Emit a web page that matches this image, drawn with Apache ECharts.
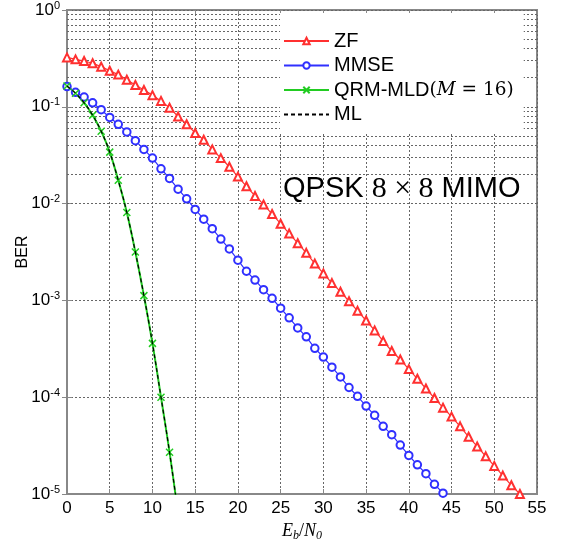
<!DOCTYPE html>
<html>
<head>
<meta charset="utf-8">
<script src="https://cdn.jsdelivr.net/npm/echarts@6/dist/echarts.min.js"></script>
<style>
  html, body { margin: 0; padding: 0; background: #fff; }
  #chart { width: 564px; height: 540px; }
</style>
</head>
<body>
<div id="chart"></div>
<script>
// BER values, one per 1 dB step starting at 0 dB
var berZF = [
  0.324, 0.309, 0.297, 0.282, 0.260, 0.236, 0.215, 0.190, 0.168, 0.149,
  0.132, 0.115, 0.098, 0.0794, 0.066, 0.0537, 0.0457, 0.0363, 0.0295, 0.024,
  0.019, 0.0151, 0.012, 0.0098, 0.0078, 0.0062, 0.0049, 0.0039, 0.0031, 0.0024,
  0.0019, 0.00151, 0.00123, 9.8e-4, 7.8e-4, 6.2e-4, 4.9e-4, 3.8e-4, 3.0e-4, 2.45e-4,
  1.95e-4, 1.55e-4, 1.23e-4, 9.8e-5, 7.8e-5, 6.3e-5, 5.0e-5, 3.9e-5, 3.1e-5, 2.45e-5,
  1.95e-5, 1.55e-5, 1.23e-5, 1.0e-5
];
var berMMSE = [
  0.162, 0.141, 0.126, 0.110, 0.0933, 0.0776, 0.066, 0.055, 0.0447, 0.0363,
  0.0295, 0.0229, 0.0182, 0.0141, 0.0112, 0.0087, 0.0069, 0.0055, 0.0043, 0.0034,
  0.0026, 0.0020, 0.00162, 0.00129, 0.00105, 8.3e-4, 6.6e-4, 5.2e-4, 4.2e-4, 3.2e-4,
  2.6e-4, 2.04e-4, 1.62e-4, 1.26e-4, 1.02e-4, 8.1e-5, 6.5e-5, 5.0e-5, 4.1e-5, 3.2e-5,
  2.5e-5, 2.0e-5, 1.62e-5, 1.26e-5, 1.02e-5
];
// the last value (13 dB) lies below the axis; only the line running into it shows
var berQRM = [
  0.164, 0.138, 0.110, 0.082, 0.056, 0.034, 0.0174, 0.0081, 0.00316, 0.00112,
  3.6e-4, 1.0e-4, 2.7e-5, 6.3e-6
];
var berML = [
  0.164, 0.138, 0.110, 0.082, 0.056, 0.034, 0.0174, 0.0081, 0.00316, 0.00112,
  3.6e-4, 1.0e-4, 2.7e-5, 6.3e-6
];
// minor grid lines of the log axis (2..9 in every decade)
var minorGrid = [];
[1e-5, 1e-4, 1e-3, 1e-2, 1e-1].forEach(function (d) {
  for (var k = 2; k <= 9; k++) minorGrid.push({ yAxis: k * d });
});

function pairs(arr) {
  return arr.map(function (v, i) { return [i, v]; });
}

var sans = 'Liberation Sans';
var serif = 'Liberation Serif';
var mathFont = 'DejaVu Serif';
var gridColor = '#666';

var chart = echarts.init(document.getElementById('chart'));
var option = {
  animation: false,
  backgroundColor: '#fff',
  grid: {
    left: 67, right: 27, top: 10, bottom: 46,
    outerBoundsMode: 'none',
    show: true, borderColor: '#888', borderWidth: 2, backgroundColor: 'transparent'
  },
  graphic: [{
    type: 'text',
    left: 283, top: 174, z: 100,
    style: {
      text: '{a|QPSK }{m|8 × 8}{a| MIMO}',
      rich: {
        a: { fontFamily: sans, fontSize: 29, fill: '#000' },
        m: { fontFamily: serif, fontSize: 30, fill: '#000' }
      }
    }
  }],
  legend: {
    orient: 'vertical',
    left: 280, top: 13,
    padding: [18, 10, 8, 3],
    backgroundColor: '#fff',
    itemWidth: 45, itemHeight: 8, itemGap: 4.5,
    data: ['ZF', 'MMSE', 'QRM-MLD', 'ML'],
    formatter: function (n) {
      if (n === 'QRM-MLD') return '{t|QRM-MLD}{p|(}{i|M}{p| = 16)}';
      return '{t|' + n + '}';
    },
    textStyle: {
      rich: {
        t: { fontFamily: sans, fontSize: 20, color: '#000', lineHeight: 21 },
        p: { fontFamily: mathFont, fontSize: 18.5, color: '#000', lineHeight: 21 },
        i: { fontFamily: mathFont, fontStyle: 'italic', fontSize: 18.5, color: '#000', lineHeight: 21 }
      }
    }
  },
  xAxis: [{
    type: 'value', min: 0, max: 55, interval: 5,
    name: '{i|E}{s|b}{p|/}{i|N}{s|0}',
    nameLocation: 'middle', nameGap: 18,
    nameTextStyle: {
      rich: {
        i: { fontFamily: serif, fontStyle: 'italic', fontSize: 18, color: '#000' },
        p: { fontFamily: serif, fontSize: 18, color: '#000' },
        s: { fontFamily: serif, fontStyle: 'italic', fontSize: 12, color: '#000', padding: [9, 0, 0, 0] }
      }
    },
    axisLine: { show: true, lineStyle: { color: '#888', width: 2 } },
    axisTick: { inside: true, length: 5, lineStyle: { color: '#888' } },
    axisLabel: { fontFamily: sans, fontSize: 17, color: '#000', margin: 6 },
    splitLine: { show: true, lineStyle: { color: gridColor, type: [2, 2], width: 1 } }
  }, {
    type: 'value', min: 0, max: 55, interval: 5, position: 'top',
    axisLine: { show: false },
    axisTick: { inside: true, length: 5, lineStyle: { color: '#888' } },
    axisLabel: { show: false },
    splitLine: { show: false }
  }],
  yAxis: [{
    type: 'log', logBase: 10, min: 1e-5, max: 1,
    name: 'BER', nameLocation: 'middle', nameGap: 36, nameRotate: 90,
    nameMoveOverlap: false,
    nameTextStyle: { fontFamily: sans, fontSize: 16, color: '#000' },
    axisLine: { show: true, lineStyle: { color: '#888', width: 2 } },
    axisTick: { inside: true, length: 5, lineStyle: { color: '#888' } },
    axisLabel: {
      margin: 7,
      formatter: function (v) {
        return '{b|10}{s|' + Math.round(Math.log10(v)) + '}';
      },
      rich: {
        b: { fontFamily: sans, fontSize: 17, color: '#000' },
        s: { fontFamily: sans, fontSize: 11, color: '#000', padding: [0, 0, 9, 0] }
      }
    },
    splitLine: { show: true, lineStyle: { color: gridColor, type: [2, 2], width: 1 } }
  }, {
    type: 'log', logBase: 10, min: 1e-5, max: 1, position: 'right',
    axisLine: { show: false },
    axisTick: { inside: true, length: 5, lineStyle: { color: '#888' } },
    axisLabel: { show: false },
    splitLine: { show: false }
  }],
  series: [{
    name: 'ZF', type: 'line', data: pairs(berZF),
    symbol: 'emptyTriangle', symbolSize: 8,
    lineStyle: { color: '#ff3030', width: 1.2 },
    itemStyle: { color: '#ff3030', borderWidth: 1.2 },
    z: 4,
    markLine: {
      silent: true, symbol: 'none', label: { show: false },
      lineStyle: { color: gridColor, type: [2, 2], width: 1 },
      data: minorGrid, z: 1
    }
  }, {
    name: 'MMSE', type: 'line', data: pairs(berMMSE),
    symbol: 'emptyCircle', symbolSize: 7.5,
    lineStyle: { color: '#3030ff', width: 1.2 },
    itemStyle: { color: '#3030ff', borderWidth: 1.2 },
    z: 4
  }, {
    name: 'QRM-MLD', type: 'line', data: pairs(berQRM),
    smooth: 0.4,
    symbol: 'path://M0,0L10,10M10,0L0,10', symbolSize: 7,
    lineStyle: { color: '#22cc22', width: 2 },
    itemStyle: { color: '#22cc22', borderColor: '#22cc22', borderWidth: 1.5 },
    z: 4
  }, {
    name: 'ML', type: 'line', data: pairs(berML),
    smooth: 0.4, showSymbol: false,
    symbol: 'circle',
    lineStyle: { color: '#000', width: 1.2, type: [4, 3] },
    itemStyle: { color: 'rgba(0,0,0,0)', borderColor: 'rgba(0,0,0,0)', borderWidth: 0 },
    z: 5
  }]
};
chart.setOption(option);
</script>
</body>
</html>
